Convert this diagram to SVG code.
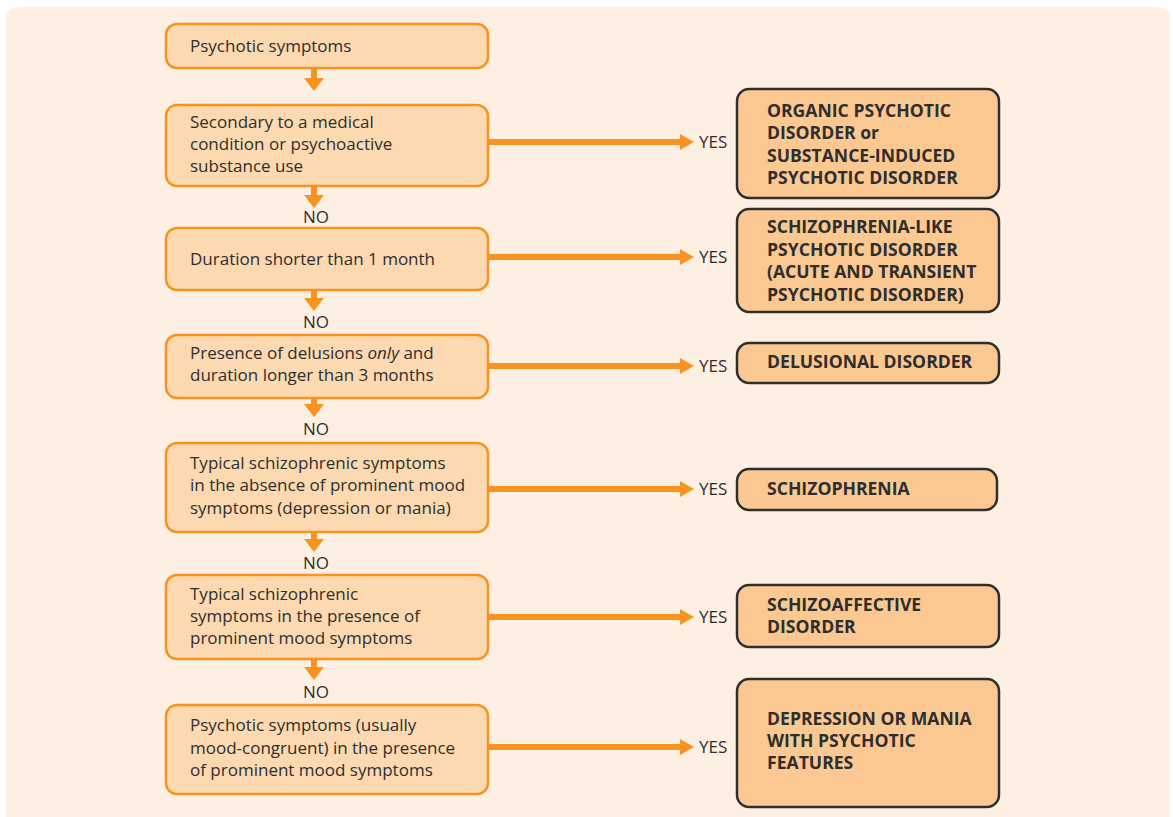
<svg xmlns="http://www.w3.org/2000/svg" width="1173" height="817" viewBox="0 0 1173 817">
  <defs>
    <style>
      .panel { fill: #fdf0e3; }
      .q { fill: #fcd9b0; stroke: #f7931e; stroke-width: 2.5; }
      .dx { fill: #fbc892; stroke: #2e2e2e; stroke-width: 2.5; }
      .t { font-family: "Open Sans", "Noto Sans", sans-serif; font-size: 17px; fill: #2e2e2e; }
      .b { font-family: "Open Sans", "Noto Sans", sans-serif; font-size: 17.6px; font-weight: bold; fill: #2e2e2e; }
      .lbl { font-family: "Open Sans", "Noto Sans", sans-serif; font-size: 17px; fill: #2e2e2e; }
      .shaft { stroke: #f7931e; stroke-width: 6; fill: none; }
      .head { fill: #f7931e; }
    </style>
  </defs>

  <rect width="1173" height="817" fill="#ffffff"/>
  <path class="panel" d="M6 817 V19 Q6 7 18 7 H1158 Q1170 7 1170 19 V817 Z"/>

  <!-- connectors -->
  <g id="connectors">
    <!-- vertical NO arrows -->
    <line class="shaft" x1="314" y1="68" x2="314" y2="80"/>
    <polygon class="head" points="304,78 324,78 314,91"/>
    <line class="shaft" x1="314" y1="186" x2="314" y2="197"/>
    <polygon class="head" points="304,195 324,195 314,208"/>
    <line class="shaft" x1="314" y1="290" x2="314" y2="300"/>
    <polygon class="head" points="304,298 324,298 314,311"/>
    <line class="shaft" x1="314" y1="398" x2="314" y2="406"/>
    <polygon class="head" points="304,404 324,404 314,417"/>
    <line class="shaft" x1="314" y1="532" x2="314" y2="541"/>
    <polygon class="head" points="304,539 324,539 314,552"/>
    <line class="shaft" x1="314" y1="659" x2="314" y2="669"/>
    <polygon class="head" points="304,667 324,667 314,680"/>

    <!-- horizontal YES arrows -->
    <line class="shaft" x1="488" y1="142" x2="682" y2="142"/>
    <polygon class="head" points="680,134 680,150 694,142"/>
    <line class="shaft" x1="488" y1="257" x2="682" y2="257"/>
    <polygon class="head" points="680,249 680,265 694,257"/>
    <line class="shaft" x1="488" y1="366" x2="682" y2="366"/>
    <polygon class="head" points="680,358 680,374 694,366"/>
    <line class="shaft" x1="488" y1="489" x2="682" y2="489"/>
    <polygon class="head" points="680,481 680,497 694,489"/>
    <line class="shaft" x1="488" y1="617" x2="682" y2="617"/>
    <polygon class="head" points="680,609 680,625 694,617"/>
    <line class="shaft" x1="488" y1="747" x2="682" y2="747"/>
    <polygon class="head" points="680,739 680,755 694,747"/>

    <!-- branch labels -->
    <text class="lbl" x="316" y="223" text-anchor="middle">NO</text>
    <text class="lbl" x="316" y="328" text-anchor="middle">NO</text>
    <text class="lbl" x="316" y="435" text-anchor="middle">NO</text>
    <text class="lbl" x="316" y="569" text-anchor="middle">NO</text>
    <text class="lbl" x="316" y="698" text-anchor="middle">NO</text>

    <text class="lbl" x="699" y="148">YES</text>
    <text class="lbl" x="699" y="263">YES</text>
    <text class="lbl" x="699" y="372">YES</text>
    <text class="lbl" x="699" y="495">YES</text>
    <text class="lbl" x="699" y="623">YES</text>
    <text class="lbl" x="699" y="753">YES</text>
  </g>

  <!-- question nodes -->
  <g id="q1">
    <rect class="q" x="166" y="24" width="322" height="44" rx="11"/>
    <text class="t" x="190" y="52">Psychotic symptoms</text>
  </g>
  <g id="q2">
    <rect class="q" x="166" y="105" width="322" height="81" rx="11"/>
    <text class="t" x="190" y="128">Secondary to a medical</text>
    <text class="t" x="190" y="150">condition or psychoactive</text>
    <text class="t" x="190" y="172">substance use</text>
  </g>
  <g id="q3">
    <rect class="q" x="166" y="228" width="322" height="62" rx="11"/>
    <text class="t" x="190" y="265">Duration shorter than 1 month</text>
  </g>
  <g id="q4">
    <rect class="q" x="166" y="335" width="322" height="63" rx="11"/>
    <text class="t" x="190" y="359">Presence of delusions <tspan font-style="italic">only</tspan> and</text>
    <text class="t" x="190" y="381">duration longer than 3 months</text>
  </g>
  <g id="q5">
    <rect class="q" x="166" y="443" width="322" height="89" rx="11"/>
    <text class="t" x="190" y="469">Typical schizophrenic symptoms</text>
    <text class="t" x="190" y="491">in the absence of prominent mood</text>
    <text class="t" x="190" y="514">symptoms (depression or mania)</text>
  </g>
  <g id="q6">
    <rect class="q" x="166" y="575" width="322" height="84" rx="11"/>
    <text class="t" x="190" y="600">Typical schizophrenic</text>
    <text class="t" x="190" y="622">symptoms in the presence of</text>
    <text class="t" x="190" y="644">prominent mood symptoms</text>
  </g>
  <g id="q7">
    <rect class="q" x="166" y="705" width="322" height="89" rx="11"/>
    <text class="t" x="190" y="731">Psychotic symptoms (usually</text>
    <text class="t" x="190" y="754">mood-congruent) in the presence</text>
    <text class="t" x="190" y="776">of prominent mood symptoms</text>
  </g>

  <!-- diagnosis nodes -->
  <g id="d1">
    <rect class="dx" x="737" y="89" width="262" height="109" rx="12"/>
    <text class="b" x="767" y="117">ORGANIC PSYCHOTIC</text>
    <text class="b" x="767" y="139">DISORDER or</text>
    <text class="b" x="767" y="162">SUBSTANCE-INDUCED</text>
    <text class="b" x="767" y="184">PSYCHOTIC DISORDER</text>
  </g>
  <g id="d2">
    <rect class="dx" x="737" y="209" width="262" height="103" rx="12"/>
    <text class="b" x="767" y="233">SCHIZOPHRENIA-LIKE</text>
    <text class="b" x="767" y="256">PSYCHOTIC DISORDER</text>
    <text class="b" x="767" y="278">(ACUTE AND TRANSIENT</text>
    <text class="b" x="767" y="301">PSYCHOTIC DISORDER)</text>
  </g>
  <g id="d3">
    <rect class="dx" x="737" y="343" width="262" height="40" rx="12"/>
    <text class="b" x="767" y="368">DELUSIONAL DISORDER</text>
  </g>
  <g id="d4">
    <rect class="dx" x="737" y="469" width="260" height="41" rx="12"/>
    <text class="b" x="767" y="495">SCHIZOPHRENIA</text>
  </g>
  <g id="d5">
    <rect class="dx" x="737" y="585" width="262" height="62" rx="12"/>
    <text class="b" x="767" y="611">SCHIZOAFFECTIVE</text>
    <text class="b" x="767" y="633">DISORDER</text>
  </g>
  <g id="d6">
    <rect class="dx" x="737" y="679" width="262" height="128" rx="12"/>
    <text class="b" x="767" y="725">DEPRESSION OR MANIA</text>
    <text class="b" x="767" y="747">WITH PSYCHOTIC</text>
    <text class="b" x="767" y="769">FEATURES</text>
  </g>
</svg>
